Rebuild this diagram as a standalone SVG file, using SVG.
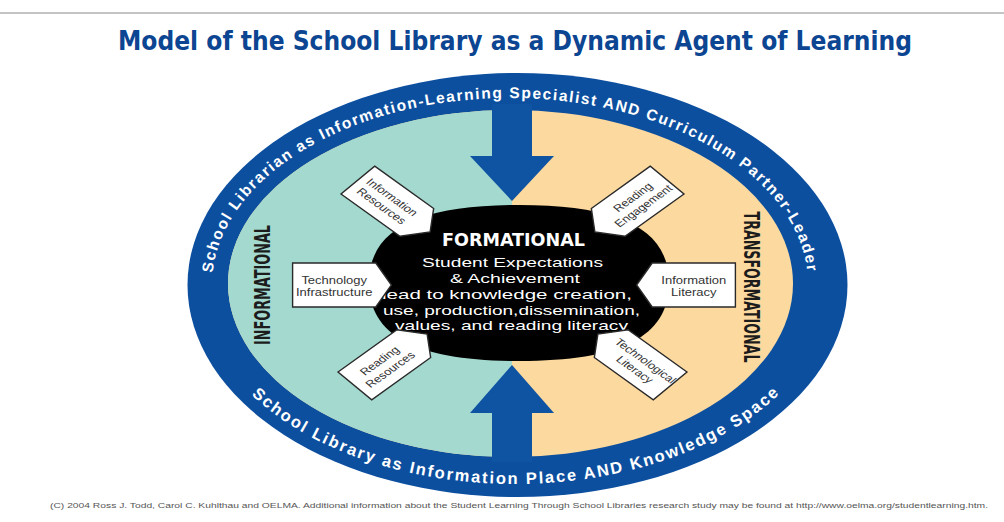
<svg xmlns="http://www.w3.org/2000/svg" width="1004" height="522" viewBox="0 0 1004 522">
  <style>
    .title { font-family: "DejaVu Sans Condensed", "DejaVu Sans", sans-serif; font-weight: bold; font-stretch: condensed; fill: #0c4592; }
    .ring { font-family: "Liberation Sans", Arial, sans-serif; font-weight: bold; fill: #ffffff; }
    .side { font-family: "DejaVu Sans Condensed", "DejaVu Sans", sans-serif; font-weight: bold; font-stretch: condensed; fill: #1c1c1c; font-size: 22px; text-anchor: middle; }
    .ctr { font-family: "Liberation Sans", Arial, sans-serif; fill: #ffffff; font-size: 13.5px; text-anchor: middle; }
    .ctrh { font-family: "DejaVu Sans Condensed", "DejaVu Sans", sans-serif; font-weight: bold; fill: #ffffff; font-size: 18px; text-anchor: middle; }
    .box { fill: #ffffff; stroke: #2a2a2a; stroke-width: 1.4; vector-effect: non-scaling-stroke; }
    .bt { font-family: "Liberation Sans", Arial, sans-serif; fill: #333333; font-size: 10px; text-anchor: middle; }
    .arrow { fill: #0f53a3; }
    .foot { font-family: "Liberation Sans", Arial, sans-serif; fill: #555555; font-size: 7px; }
  </style>
  <defs>
    <clipPath id="leftHalf"><rect x="0" y="0" width="512" height="522"/></clipPath>
    <path id="topArc" d="M 212,285 A 298,187 0 0 1 808,285"/>
    <path id="botArc" d="M 199,285 A 316,199 0 0 0 831,285"/>
  </defs>

  <rect x="0" y="0" width="1004" height="522" fill="#ffffff"/>
  <line x1="0" y1="13" x2="1004" y2="13" stroke="#b0b0b0" stroke-width="1.5"/>
  <text class="title" x="515" y="50" font-size="27" text-anchor="middle" textLength="794" lengthAdjust="spacingAndGlyphs">Model of the School Library as a Dynamic Agent of Learning</text>

  <g id="ring">
    <ellipse cx="517.5" cy="285" rx="330" ry="212" fill="#0d4f9f"/>
  </g>
  <g id="sectors">
    <ellipse cx="510.5" cy="283.5" rx="282.5" ry="173.5" fill="#fcd99f"/>
    <ellipse cx="510.5" cy="283.5" rx="282.5" ry="173.5" fill="#a3d9cf" clip-path="url(#leftHalf)"/>
  </g>

  <g id="connectors">
    <polygon class="arrow" points="492,104 532,104 532,156 554,156 512,201 470,156 492,156"/>
    <polygon class="arrow" points="492,462 532,462 532,413 554,413 512,365 470,413 492,413"/>
  </g>

  <g id="ring-labels">
    <text class="ring" font-size="15.5"><textPath href="#topArc" startOffset="12" textLength="746" lengthAdjust="spacing">School Librarian as Information-Learning Specialist AND Curriculum Partner-Leader</textPath></text>
    <text class="ring" font-size="16.5"><textPath href="#botArc" startOffset="125" textLength="570" lengthAdjust="spacing">School Library as Information Place AND Knowledge Space</textPath></text>
  </g>

  <g id="informational">
    <text class="side" transform="translate(270,285) rotate(-90)" textLength="120" lengthAdjust="spacingAndGlyphs">INFORMATIONAL</text>
  </g>
  <g id="transformational">
    <text class="side" transform="translate(744,287) rotate(90)" textLength="151" lengthAdjust="spacingAndGlyphs">TRANSFORMATIONAL</text>
  </g>

  <g id="formational">
    <path d="M 369,283 C 369,229 418,205 519,205 C 620,205 669,229 669,283 C 669,337 620,361 519,361 C 418,361 369,337 369,283 Z" fill="#000000"/>
    <text class="ctrh" x="513.5" y="246" textLength="143" lengthAdjust="spacingAndGlyphs">FORMATIONAL</text>
    <text class="ctr" x="512.5" y="267" textLength="181" lengthAdjust="spacingAndGlyphs">Student Expectations</text>
    <text class="ctr" x="515" y="283" textLength="130" lengthAdjust="spacingAndGlyphs">&amp; Achievement</text>
    <text class="ctr" x="507" y="299" textLength="250" lengthAdjust="spacingAndGlyphs">lead to knowledge creation,</text>
    <text class="ctr" x="511.5" y="314.5" textLength="257" lengthAdjust="spacingAndGlyphs">use, production,dissemination,</text>
    <text class="ctr" x="511.5" y="330" textLength="233" lengthAdjust="spacingAndGlyphs">values, and reading literacy</text>
  </g>

  <g id="node-information-resources" transform="translate(394,206) scale(1.3,1) rotate(43)">
    <polygon class="box" points="-38,-19 24,-19 38,0 24,19 -38,19"/>
    <text class="bt" x="-7" y="-2">Information</text>
    <text class="bt" x="-7" y="10">Resources</text>
  </g>
  <g id="node-technology-infrastructure" transform="translate(342,285) scale(1.3,1)">
    <polygon class="box" points="-38,-22 26,-22 38,0 26,22 -38,22"/>
    <text class="bt" x="-6" y="-1" font-size="10.8">Technology</text>
    <text class="bt" x="-6" y="11" font-size="10.8">Infrastructure</text>
  </g>
  <g id="node-reading-resources" transform="translate(391,360) scale(1.3,1) rotate(-43)">
    <polygon class="box" points="-38,-19 24,-19 38,0 24,19 -38,19"/>
    <text class="bt" x="-7" y="-2">Reading</text>
    <text class="bt" x="-7" y="10">Resources</text>
  </g>
  <g id="node-reading-engagement" transform="translate(631,206) scale(1.3,1) rotate(-43)">
    <polygon class="box" points="38,-19 -24,-19 -38,0 -24,19 38,19"/>
    <text class="bt" x="7" y="-2">Reading</text>
    <text class="bt" x="7" y="10">Engagement</text>
  </g>
  <g id="node-information-literacy" transform="translate(686,285) scale(1.3,1)">
    <polygon class="box" points="38,-22 -26,-22 -38,0 -26,22 38,22"/>
    <text class="bt" x="6" y="-1" font-size="10.8">Information</text>
    <text class="bt" x="6" y="11" font-size="10.8">Literacy</text>
  </g>
  <g id="node-technological-literacy" transform="translate(634,360) scale(1.3,1) rotate(43)">
    <polygon class="box" points="38,-19 -24,-19 -38,0 -24,19 38,19"/>
    <text class="bt" x="7" y="-2" font-size="9.5">Technological</text>
    <text class="bt" x="7" y="10">Literacy</text>
  </g>

  <text class="foot" x="50" y="508" textLength="938" lengthAdjust="spacingAndGlyphs">(C) 2004 Ross J. Todd, Carol C. Kuhlthau and OELMA. Additional information about the Student Learning Through School Libraries research study may be found at http://www.oelma.org/studentlearning.htm.</text>
</svg>
